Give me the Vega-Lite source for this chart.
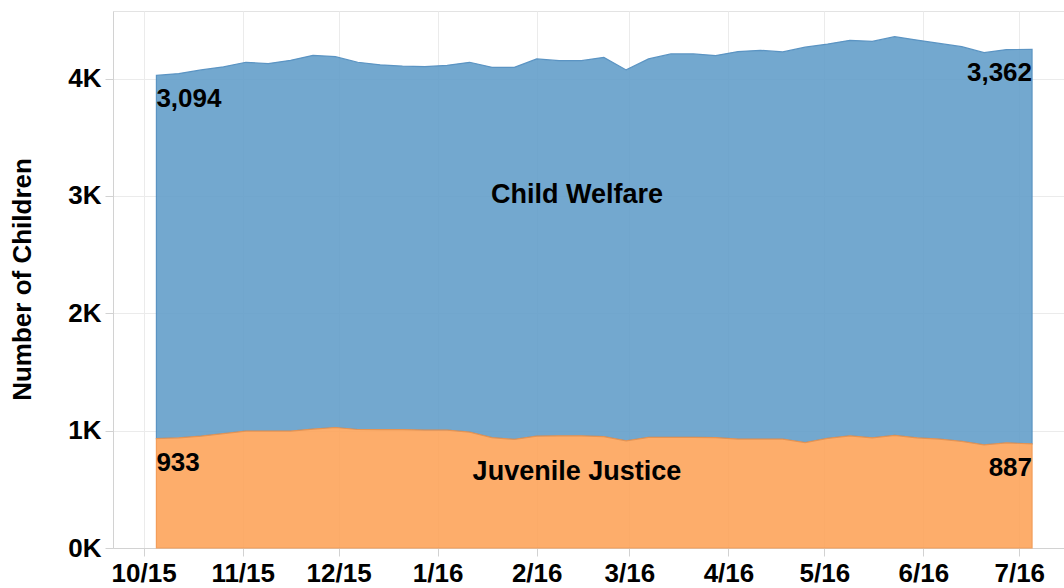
{
  "$schema": "https://vega.github.io/schema/vega-lite/v6.json",
  "width": 951,
  "height": 537,
  "autosize": "none",
  "padding": {"left": 113, "top": 11, "right": 0, "bottom": 40},
  "background": "white",
  "config": {
    "font": "Liberation Sans",
    "view": {"stroke": "#e3e3e3"},
    "axis": {
      "labelFont": "Liberation Sans",
      "labelFontWeight": "bold",
      "labelFontSize": 26,
      "labelColor": "#000000",
      "titleFont": "Liberation Sans",
      "titleFontWeight": "bold",
      "titleFontSize": 26,
      "titleColor": "#000000",
      "gridColor": "#ebebeb",
      "domainColor": "#d2d2d2",
      "tickColor": "#d2d2d2",
      "tickSize": 8
    },
    "text": {"font": "Liberation Sans", "fontSize": 26, "fontWeight": "bold", "color": "#000000"}
  },
  "datasets": {
    "counts": [
      {"date": "2015-10-05", "series": "Child Welfare", "value": 3094}, {"date": "2015-10-05", "series": "Juvenile Justice", "value": 933},
      {"date": "2015-10-12", "series": "Child Welfare", "value": 3104}, {"date": "2015-10-12", "series": "Juvenile Justice", "value": 939},
      {"date": "2015-10-19", "series": "Child Welfare", "value": 3121}, {"date": "2015-10-19", "series": "Juvenile Justice", "value": 953},
      {"date": "2015-10-26", "series": "Child Welfare", "value": 3126}, {"date": "2015-10-26", "series": "Juvenile Justice", "value": 974},
      {"date": "2015-11-02", "series": "Child Welfare", "value": 3143}, {"date": "2015-11-02", "series": "Juvenile Justice", "value": 996},
      {"date": "2015-11-09", "series": "Child Welfare", "value": 3132}, {"date": "2015-11-09", "series": "Juvenile Justice", "value": 996},
      {"date": "2015-11-16", "series": "Child Welfare", "value": 3160}, {"date": "2015-11-16", "series": "Juvenile Justice", "value": 996},
      {"date": "2015-11-23", "series": "Child Welfare", "value": 3185}, {"date": "2015-11-23", "series": "Juvenile Justice", "value": 1013},
      {"date": "2015-11-30", "series": "Child Welfare", "value": 3160}, {"date": "2015-11-30", "series": "Juvenile Justice", "value": 1027},
      {"date": "2015-12-07", "series": "Child Welfare", "value": 3129}, {"date": "2015-12-07", "series": "Juvenile Justice", "value": 1010},
      {"date": "2015-12-14", "series": "Child Welfare", "value": 3108}, {"date": "2015-12-14", "series": "Juvenile Justice", "value": 1009},
      {"date": "2015-12-21", "series": "Child Welfare", "value": 3097}, {"date": "2015-12-21", "series": "Juvenile Justice", "value": 1009},
      {"date": "2015-12-28", "series": "Child Welfare", "value": 3098}, {"date": "2015-12-28", "series": "Juvenile Justice", "value": 1004},
      {"date": "2016-01-04", "series": "Child Welfare", "value": 3109}, {"date": "2016-01-04", "series": "Juvenile Justice", "value": 1004},
      {"date": "2016-01-11", "series": "Child Welfare", "value": 3152}, {"date": "2016-01-11", "series": "Juvenile Justice", "value": 987},
      {"date": "2016-01-18", "series": "Child Welfare", "value": 3156}, {"date": "2016-01-18", "series": "Juvenile Justice", "value": 940},
      {"date": "2016-01-25", "series": "Child Welfare", "value": 3171}, {"date": "2016-01-25", "series": "Juvenile Justice", "value": 925},
      {"date": "2016-02-01", "series": "Child Welfare", "value": 3215}, {"date": "2016-02-01", "series": "Juvenile Justice", "value": 953},
      {"date": "2016-02-08", "series": "Child Welfare", "value": 3197}, {"date": "2016-02-08", "series": "Juvenile Justice", "value": 956},
      {"date": "2016-02-15", "series": "Child Welfare", "value": 3197}, {"date": "2016-02-15", "series": "Juvenile Justice", "value": 956},
      {"date": "2016-02-22", "series": "Child Welfare", "value": 3232}, {"date": "2016-02-22", "series": "Juvenile Justice", "value": 949},
      {"date": "2016-02-29", "series": "Child Welfare", "value": 3161}, {"date": "2016-02-29", "series": "Juvenile Justice", "value": 913},
      {"date": "2016-03-07", "series": "Child Welfare", "value": 3226}, {"date": "2016-03-07", "series": "Juvenile Justice", "value": 942},
      {"date": "2016-03-14", "series": "Child Welfare", "value": 3268}, {"date": "2016-03-14", "series": "Juvenile Justice", "value": 942},
      {"date": "2016-03-21", "series": "Child Welfare", "value": 3268}, {"date": "2016-03-21", "series": "Juvenile Justice", "value": 942},
      {"date": "2016-03-28", "series": "Child Welfare", "value": 3256}, {"date": "2016-03-28", "series": "Juvenile Justice", "value": 940},
      {"date": "2016-04-04", "series": "Child Welfare", "value": 3302}, {"date": "2016-04-04", "series": "Juvenile Justice", "value": 928},
      {"date": "2016-04-11", "series": "Child Welfare", "value": 3313}, {"date": "2016-04-11", "series": "Juvenile Justice", "value": 928},
      {"date": "2016-04-18", "series": "Child Welfare", "value": 3299}, {"date": "2016-04-18", "series": "Juvenile Justice", "value": 928},
      {"date": "2016-04-25", "series": "Child Welfare", "value": 3370}, {"date": "2016-04-25", "series": "Juvenile Justice", "value": 898},
      {"date": "2016-05-02", "series": "Child Welfare", "value": 3360}, {"date": "2016-05-02", "series": "Juvenile Justice", "value": 934},
      {"date": "2016-05-09", "series": "Child Welfare", "value": 3370}, {"date": "2016-05-09", "series": "Juvenile Justice", "value": 956},
      {"date": "2016-05-16", "series": "Child Welfare", "value": 3378}, {"date": "2016-05-16", "series": "Juvenile Justice", "value": 939},
      {"date": "2016-05-23", "series": "Child Welfare", "value": 3398}, {"date": "2016-05-23", "series": "Juvenile Justice", "value": 959},
      {"date": "2016-05-30", "series": "Child Welfare", "value": 3389}, {"date": "2016-05-30", "series": "Juvenile Justice", "value": 939},
      {"date": "2016-06-06", "series": "Child Welfare", "value": 3372}, {"date": "2016-06-06", "series": "Juvenile Justice", "value": 928},
      {"date": "2016-06-13", "series": "Child Welfare", "value": 3364}, {"date": "2016-06-13", "series": "Juvenile Justice", "value": 908},
      {"date": "2016-06-20", "series": "Child Welfare", "value": 3343}, {"date": "2016-06-20", "series": "Juvenile Justice", "value": 878},
      {"date": "2016-06-27", "series": "Child Welfare", "value": 3351}, {"date": "2016-06-27", "series": "Juvenile Justice", "value": 896},
      {"date": "2016-07-05", "series": "Child Welfare", "value": 3362}, {"date": "2016-07-05", "series": "Juvenile Justice", "value": 887}
    ],
    "labels": [
      {"label": "Child Welfare"}
    ],
    "labels2": [
      {"label": "Juvenile Justice"}
    ]
  },
  "layer": [
    {
      "data": {"name": "counts"},
      "mark": {"type": "area", "opacity": 0.9, "strokeWidth": 1.2},
      "encoding": {
        "x": {
          "field": "date",
          "type": "temporal",
          "title": null,
          "scale": {
            "type": "utc",
            "domain": [
              {"year": 2015, "month": 9, "date": 21, "hours": 10, "utc": true},
              {"year": 2016, "month": 7, "date": 15, "utc": true}
            ]
          },
          "axis": {
            "format": "%-m/%y",
            "tickCount": "month",
            "labelPadding": 4,
            "labelFlush": false,
            "labelOverlap": false
          }
        },
        "y": {
          "field": "value",
          "type": "quantitative",
          "stack": "zero",
          "title": "Number of Children",
          "scale": {"domain": [0, 4576], "nice": false},
          "axis": {
            "values": [0, 1000, 2000, 3000, 4000],
            "labelExpr": "format(datum.value / 1000, 'd') + 'K'",
            "labelPadding": 4,
            "titleX": -91,
            "titleY": 268,
            "titleAlign": "center",
            "titleBaseline": "middle",
            "titleAngle": -90
          }
        },
        "order": {"field": "series", "sort": "descending"},
        "color": {
          "field": "series",
          "type": "nominal",
          "scale": {"domain": ["Child Welfare", "Juvenile Justice"], "range": ["#649fca", "#fda55b"]},
          "legend": null
        },
        "stroke": {
          "field": "series",
          "type": "nominal",
          "scale": {"domain": ["Child Welfare", "Juvenile Justice"], "range": ["#4a89bd", "#f39449"]},
          "legend": null
        }
      }
    },
    {
      "data": {"name": "counts"},
      "transform": [{"filter": "utcyear(datum.date) == 2015 && utcmonth(datum.date) == 9 && utcdate(datum.date) == 5"}],
      "mark": {"type": "text", "align": "left", "baseline": "top", "dy": 11, "dx": 0},
      "encoding": {
        "x": {"field": "date", "type": "temporal"},
        "y": {"field": "value", "type": "quantitative", "stack": "zero"},
        "detail": {"field": "series"},
        "order": {"field": "series", "sort": "descending"},
        "text": {"field": "value", "type": "quantitative", "format": ","}
      }
    },
    {
      "data": {"name": "counts"},
      "transform": [{"filter": "utcyear(datum.date) == 2016 && utcmonth(datum.date) == 6 && utcdate(datum.date) == 5"}],
      "mark": {"type": "text", "align": "right", "baseline": "top", "dy": 11, "dx": 0},
      "encoding": {
        "x": {"field": "date", "type": "temporal"},
        "y": {"field": "value", "type": "quantitative", "stack": "zero"},
        "detail": {"field": "series"},
        "order": {"field": "series", "sort": "descending"},
        "text": {"field": "value", "type": "quantitative", "format": ","}
      }
    },
    {
      "data": {"name": "labels"},
      "mark": {"type": "text", "align": "center", "baseline": "middle", "fontSize": 27},
      "encoding": {
        "x": {"datum": {"year": 2016, "month": 2, "date": 13, "hours": 14, "utc": true}, "type": "temporal"},
        "y": {"datum": 3006, "type": "quantitative"},
        "text": {"field": "label", "type": "nominal"}
      }
    },
    {
      "data": {"name": "labels2"},
      "mark": {"type": "text", "align": "center", "baseline": "middle", "fontSize": 27},
      "encoding": {
        "x": {"datum": {"year": 2016, "month": 2, "date": 13, "hours": 14, "utc": true}, "type": "temporal"},
        "y": {"datum": 644, "type": "quantitative"},
        "text": {"field": "label", "type": "nominal"}
      }
    }
  ]
}
